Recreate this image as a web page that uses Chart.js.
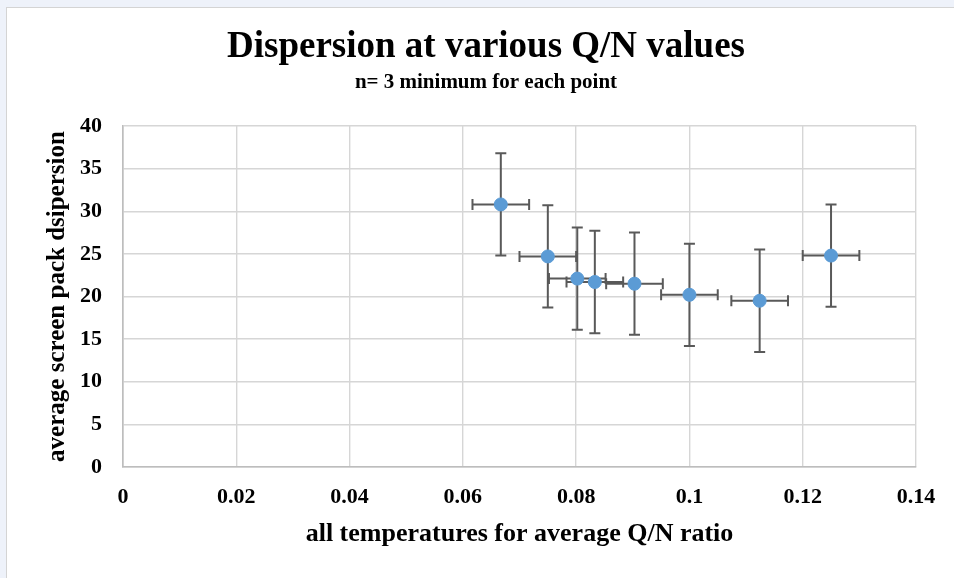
<!DOCTYPE html>
<html><head><meta charset="utf-8">
<script src="https://cdn.jsdelivr.net/npm/chart.js@4.4.1/dist/chart.umd.min.js"></script>
<style>
html,body{margin:0;padding:0;background:#eef2fa;width:954px;height:578px;overflow:hidden;}
#frame{position:absolute;left:6px;top:7px;width:1000px;height:700px;background:#fff;border:1px solid #d4d4d4;}
#wrap{position:absolute;left:0;top:0;width:954px;height:578px;}
</style></head><body>
<div id="frame"></div>
<div id="wrap"><canvas id="c" width="954" height="578"></canvas></div>
<script>
const qnRatio    = [0.0667, 0.075, 0.0802, 0.0833, 0.0903, 0.1, 0.1124, 0.125];
const dispersion = [30.8, 24.7, 22.1, 21.7, 21.5, 20.2, 19.5, 24.8];
const yErr       = [6, 6, 6, 6, 6, 6, 6, 6];
const xErr       = [0.005, 0.005, 0.005, 0.005, 0.005, 0.005, 0.005, 0.005];
const xTickValues = [0, 0.02, 0.04, 0.06, 0.08, 0.1, 0.12, 0.14];
const xTickLabels = ['0', '0.02', '0.04', '0.06', '0.08', '0.1', '0.12', '0.14'];
const yTickValues = [0, 5, 10, 15, 20, 25, 30, 35, 40];
const yTickLabels = ['0', '5', '10', '15', '20', '25', '30', '35', '40'];

const FAMILY = "'Liberation Serif', 'Times New Roman', serif";

const errorBarPlugin = {
  id: 'errorBars',
  beforeDatasetsDraw(chart) {
    const {ctx, scales: {x, y}} = chart;
    ctx.save();
    ctx.strokeStyle = '#595959';
    ctx.lineWidth = 2;
    const cap = 5.5;
    qnRatio.forEach((q, i) => {
      const px = x.getPixelForValue(q), py = y.getPixelForValue(dispersion[i]);
      const yTop = y.getPixelForValue(dispersion[i] + yErr[i]);
      const yBot = y.getPixelForValue(dispersion[i] - yErr[i]);
      const xL = x.getPixelForValue(q - xErr[i]);
      const xR = x.getPixelForValue(q + xErr[i]);
      ctx.beginPath();
      ctx.moveTo(px, yTop); ctx.lineTo(px, yBot);
      ctx.moveTo(px - cap, yTop); ctx.lineTo(px + cap, yTop);
      ctx.moveTo(px - cap, yBot); ctx.lineTo(px + cap, yBot);
      ctx.moveTo(xL, py); ctx.lineTo(xR, py);
      ctx.moveTo(xL, py - cap); ctx.lineTo(xL, py + cap);
      ctx.moveTo(xR, py - cap); ctx.lineTo(xR, py + cap);
      ctx.stroke();
    });
    ctx.restore();
  }
};

Chart.defaults.color = '#000';
Chart.defaults.font.family = FAMILY;

new Chart(document.getElementById('c'), {
  type: 'scatter',
  data: {
    datasets: [{
      data: qnRatio.map((q, i) => ({x: q, y: dispersion[i]})),
      pointRadius: 6.5,
      pointBorderWidth: 1,
      pointBackgroundColor: '#5b9bd5',
      pointBorderColor: '#5b9bd5',
      showLine: false
    }]
  },
  options: {
    responsive: false,
    animation: false,
    layout: {padding: {left: 56, right: 38, top: 0, bottom: 0}},
    plugins: {
      legend: {display: false},
      tooltip: {enabled: false},
      title: {
        display: true,
        text: 'Dispersion at various Q/N values',
        color: '#000',
        font: {family: FAMILY, size: 37, weight: 'bold'},
        padding: {top: 25.2, bottom: 0}
      },
      subtitle: {
        display: true,
        text: 'n= 3 minimum for each point',
        color: '#000',
        font: {family: FAMILY, size: 21, weight: 'bold'},
        padding: {top: 0, bottom: 31.2}
      }
    },
    scales: {
      x: {
        type: 'linear',
        min: 0, max: 0.14,
        afterBuildTicks: s => { s.ticks = xTickValues.map(v => ({value: v})); },
        afterFit: s => { s.height = 111; },
        ticks: {
          callback: (v, i) => xTickLabels[i],
          padding: 17,
          maxRotation: 0,
          autoSkip: false,
          color: '#000',
          font: {family: FAMILY, size: 22, weight: 'bold'}
        },
        grid: {color: '#d6d6d6', lineWidth: 1.4, drawTicks: false},
        border: {color: '#bdbdbd', width: 1.6},
        title: {
          display: true,
          text: 'all temperatures for average Q/N ratio',
          color: '#000',
          font: {family: FAMILY, size: 26, weight: 'bold'},
          padding: {top: 0, bottom: 28}
        }
      },
      y: {
        type: 'linear',
        min: 0, max: 40,
        afterBuildTicks: s => { s.ticks = yTickValues.map(v => ({value: v})); },
        afterFit: s => { s.width = 67; },
        ticks: {
          callback: (v, i) => yTickLabels[i],
          padding: 21,
          autoSkip: false,
          color: '#000',
          font: {family: FAMILY, size: 22, weight: 'bold'}
        },
        grid: {color: '#d6d6d6', lineWidth: 1.4, drawTicks: false},
        border: {color: '#bdbdbd', width: 1.6},
        title: {
          display: true,
          text: 'average screen pack dsipersion',
          color: '#000',
          font: {family: FAMILY, size: 25, weight: 'bold'},
          padding: {top: -13.6, bottom: 0}
        }
      }
    }
  },
  plugins: [errorBarPlugin]
});
</script>
</body></html>
